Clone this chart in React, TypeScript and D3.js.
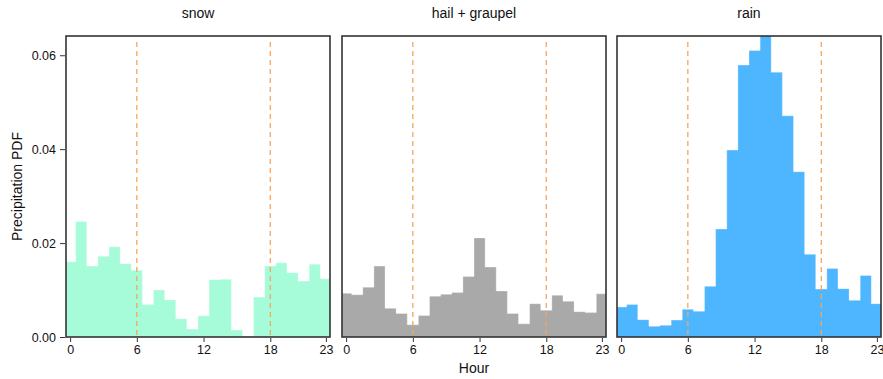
import React, { useEffect, useRef } from 'react'
import * as d3 from 'd3'

// hourly precipitation PDF, one value per hour 0..23
const hours = d3.range(24)
const snow = [0.0160, 0.0246, 0.0151, 0.0172, 0.0192, 0.0156, 0.0142, 0.0069, 0.0100, 0.0079, 0.0039, 0.0017,
  0.0045, 0.0122, 0.0123, 0.0015, 0.0001, 0.0085, 0.0151, 0.0158, 0.0137, 0.0119, 0.0155, 0.0124]
const hail = [0.0093, 0.0090, 0.0106, 0.0151, 0.0061, 0.0050, 0.0026, 0.0046, 0.0087, 0.0091, 0.0095, 0.0129,
  0.0211, 0.0149, 0.0098, 0.0050, 0.0028, 0.0071, 0.0057, 0.0089, 0.0076, 0.0054, 0.0052, 0.0092]
const rain = [0.0064, 0.0069, 0.0037, 0.0023, 0.0025, 0.0036, 0.0059, 0.0055, 0.0108, 0.0230, 0.0398, 0.0579,
  0.0610, 0.0660, 0.0564, 0.0471, 0.0352, 0.0176, 0.0102, 0.0146, 0.0103, 0.0078, 0.0131, 0.0071]
const panelTitles = ['snow', 'hail + graupel', 'rain']
const panelColors = ['#a6fcd9', '#a9a9a9', '#4db6ff']
const xTicks = [0, 6, 12, 18, 23]
const yTicks = [0, 0.02, 0.04, 0.06]
const markerHours = [6, 18]

const width = 883
const height = 379
const top = 36
const bottom = 337
const panelLefts = [66, 342, 617]
const panelWidth = 264
const font = 'Liberation Sans, Arial, sans-serif'

const App = () => {
  const ref = useRef<SVGSVGElement>(null)

  useEffect(() => {
    const svg = d3.select(ref.current)
    svg.selectAll('*').remove()

    const y = d3.scaleLinear().domain([0, 0.0641]).range([bottom, top])
    const series = [snow, hail, rain]

    series.forEach((values, i) => {
      const left = panelLefts[i]
      const x = d3.scaleLinear().domain([-0.37, 23.37]).range([left, left + panelWidth])
      const g = svg.append('g')

      const clipId = `clip${i}`
      g.append('clipPath').attr('id', clipId)
        .append('rect')
        .attr('x', left).attr('y', top)
        .attr('width', panelWidth).attr('height', bottom - top)

      // histogram as one stepped area so bars join without seams
      const steps: [number, number][] = []
      hours.forEach(h => {
        steps.push([h - 0.5, values[h]])
        steps.push([h + 0.5, values[h]])
      })
      const area = d3.area<[number, number]>()
        .x(d => x(d[0]))
        .y0(y(0))
        .y1(d => y(d[1]))
      const line = d3.line<[number, number]>()
        .x(d => x(d[0]))
        .y(d => y(d[1]))
      const bars = g.append('g').attr('clip-path', `url(#${clipId})`)
      bars.append('path')
        .attr('d', area(steps))
        .attr('fill', panelColors[i])
      bars.append('path')
        .attr('d', line(steps))
        .attr('fill', 'none')
        .attr('stroke', '#ffffff')
        .attr('stroke-opacity', 0.4)
        .attr('stroke-width', 0.8)

      // dashed lines at sunrise / sunset
      g.selectAll('line.marker')
        .data(markerHours)
        .join('line')
        .attr('class', 'marker')
        .attr('x1', h => x(h)).attr('x2', h => x(h))
        .attr('y1', top + 6).attr('y2', bottom)
        .attr('stroke', '#f5a55c')
        .attr('stroke-width', 1.3)
        .attr('stroke-dasharray', '5,4')

      // frame
      g.append('rect')
        .attr('x', left).attr('y', top)
        .attr('width', panelWidth).attr('height', bottom - top)
        .attr('fill', 'none')
        .attr('stroke', '#333333')
        .attr('stroke-width', 1.6)

      // x axis
      const xAxis = g.append('g')
        .attr('transform', `translate(0, ${bottom + 1})`)
        .call(d3.axisBottom(x).tickValues(xTicks).tickSize(4).tickPadding(3).tickFormat(d3.format('d')))
      xAxis.select('.domain').remove()
      xAxis.selectAll('line').attr('stroke', '#333333')
      xAxis.selectAll('text').attr('font-size', 12.5).attr('font-family', font).attr('fill', '#111111')

      // panel title
      g.append('text')
        .attr('x', left + panelWidth / 2)
        .attr('y', 18)
        .attr('text-anchor', 'middle')
        .attr('font-size', 14)
        .attr('font-family', font)
        .attr('fill', '#111111')
        .text(panelTitles[i])
    })

    // y axis on first panel
    const yAxis = svg.append('g')
      .attr('transform', `translate(${panelLefts[0] - 1}, 0)`)
      .call(d3.axisLeft(y).tickValues(yTicks).tickSize(5).tickPadding(4).tickFormat(d3.format('.2f')))
    yAxis.select('.domain').remove()
    yAxis.selectAll('line').attr('stroke', '#333333')
    yAxis.selectAll('text').attr('font-size', 12.5).attr('font-family', font).attr('fill', '#111111')

    svg.append('text')
      .attr('x', 474)
      .attr('y', 373)
      .attr('text-anchor', 'middle')
      .attr('font-size', 14)
      .attr('font-family', font)
      .attr('fill', '#111111')
      .text('Hour')

    svg.append('text')
      .attr('transform', `translate(22, ${(top + bottom) / 2}) rotate(-90)`)
      .attr('text-anchor', 'middle')
      .attr('font-size', 14)
      .attr('font-family', font)
      .attr('fill', '#111111')
      .text('Precipitation PDF')
  }, [])

  return (
    <svg ref={ref} width={width} height={height}
      style={{ position: 'absolute', left: 0, top: 0, background: '#ffffff' }} />
  )
}

export default App
